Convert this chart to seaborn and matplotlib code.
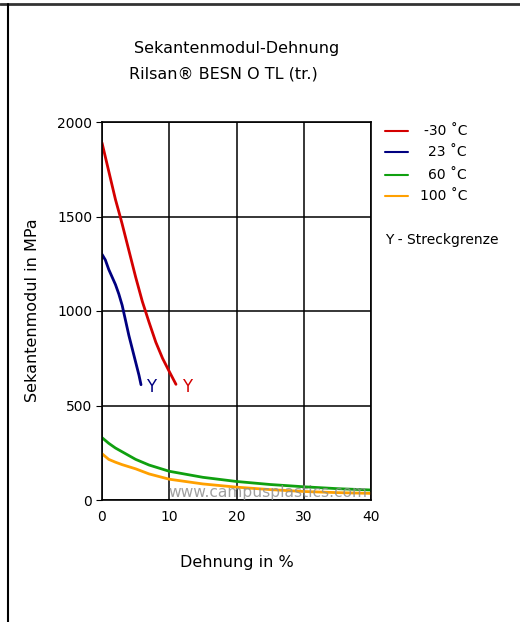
import matplotlib
matplotlib.use("Agg")
import matplotlib.pyplot as plt
import seaborn as sns
import pandas as pd
from matplotlib.lines import Line2D

# ---- data ----
x_m30 = [0, 1, 2, 2.7, 3, 4, 5, 6, 7, 8, 9, 10, 11]
y_m30 = [1890, 1740, 1590, 1500, 1460, 1320, 1180, 1050, 940, 835, 750, 680, 612]
x_23 = [0, 0.5, 1, 1.5, 2, 2.5, 3, 3.5, 4, 4.5, 5, 5.5, 5.8]
y_23 = [1300, 1270, 1220, 1180, 1140, 1090, 1030, 950, 870, 800, 730, 660, 610]
x_60 = [0, 1, 2, 3, 5, 7, 10, 15, 20, 25, 30, 35, 40]
y_60 = [330, 300, 275, 255, 215, 185, 152, 120, 98, 82, 70, 60, 53]
x_100 = [0, 1, 2, 3, 5, 7, 10, 15, 20, 25, 30, 35, 40]
y_100 = [245, 215, 200, 187, 165, 138, 110, 85, 68, 55, 45, 39, 35]
series_labels = ["-30 \u02daC", "23 \u02daC", "60 \u02daC", "100 \u02daC"]
colors = ["#d40000", "#000080", "#10a010", "#ffa000"]
yield_pts = [(7.3, 600, 1), (12.6, 600, 0)]  # (x, y, series index) for "Y" labels
x_ticks = [0, 10, 20, 30, 40]
y_ticks = [0, 500, 1000, 1500, 2000]

frames = []
for lab, xs, ys in zip(series_labels, [x_m30, x_23, x_60, x_100], [y_m30, y_23, y_60, y_100]):
    frames.append(pd.DataFrame({"x": xs, "y": ys, "s": lab}))
df = pd.concat(frames, ignore_index=True)

sns.set_style("white")
plt.rcParams["font.family"] = ["DejaVu Sans"]
plt.rcParams["text.color"] = "black"
plt.rcParams["xtick.color"] = "black"
plt.rcParams["ytick.color"] = "black"
plt.rcParams["xtick.labelcolor"] = "black"
plt.rcParams["ytick.labelcolor"] = "black"

fig = plt.figure(figsize=(5.2, 6.22), dpi=100)
ax = fig.add_axes([102/520, 1-500/622, (371-102)/520, (500-122)/622])

sns.lineplot(data=df, x="x", y="y", hue="s", palette=colors, hue_order=series_labels,
             linewidth=2.0, ax=ax, legend=False, sort=False, estimator=None)

ax.set_xlim(0, 40)
ax.set_ylim(0, 2000)
ax.set_xticks(x_ticks)
ax.set_yticks(y_ticks)
ax.grid(True, color="black", linewidth=1.1)
ax.set_axisbelow(True)
for sp in ax.spines.values():
    sp.set_color("black")
    sp.set_linewidth(1.2)
ax.tick_params(axis="both", labelsize=10, length=4, color="black", direction="out",
               left=True, bottom=False, pad=3, labelcolor="black")
ax.set_xlabel("")
ax.set_ylabel("")

for (xx, yy, si) in yield_pts:
    ax.text(xx, yy, "Y", color=colors[si], fontsize=12, ha="center", va="center")

ax.text(0.985, 0.021, "www.campusplastics.com", transform=ax.transAxes, ha="right", va="center",
        fontsize=11.2, color="#909090", alpha=0.85, zorder=5)

fig.text(237/520, 1-48/622, "Sekantenmodul-Dehnung", ha="center", va="center", fontsize=11.5)
fig.text(223/520, 1-74/622, "Rilsan\u00ae BESN O TL (tr.)", ha="center", va="center", fontsize=11.5)
fig.text(237/520, 1-562/622, "Dehnung in %", ha="center", va="center", fontsize=11.5)
fig.text(33/520, 1-310/622, "Sekantenmodul in MPa", ha="center", va="center", fontsize=11.5, rotation=90)

# legend
legend_y = [131, 152, 175, 196]
for lab, c, ly in zip(series_labels, colors, legend_y):
    yy = 1 - ly/622
    fig.add_artist(Line2D([385/520, 408/520], [yy, yy], color=c, linewidth=1.5))
    fig.text(467/520, yy, lab, ha="right", va="center", fontsize=10)
fig.text(385/520, 1-240/622, "Y - Streckgrenze", ha="left", va="center", fontsize=10)

# frame
fig.add_artist(Line2D([0, 1], [1-4/622, 1-4/622], color="#333333", linewidth=2))
fig.add_artist(Line2D([7.5/520, 7.5/520], [0, 1-4/622], color="black", linewidth=1.5))

fig.savefig("out.png", dpi=100)
